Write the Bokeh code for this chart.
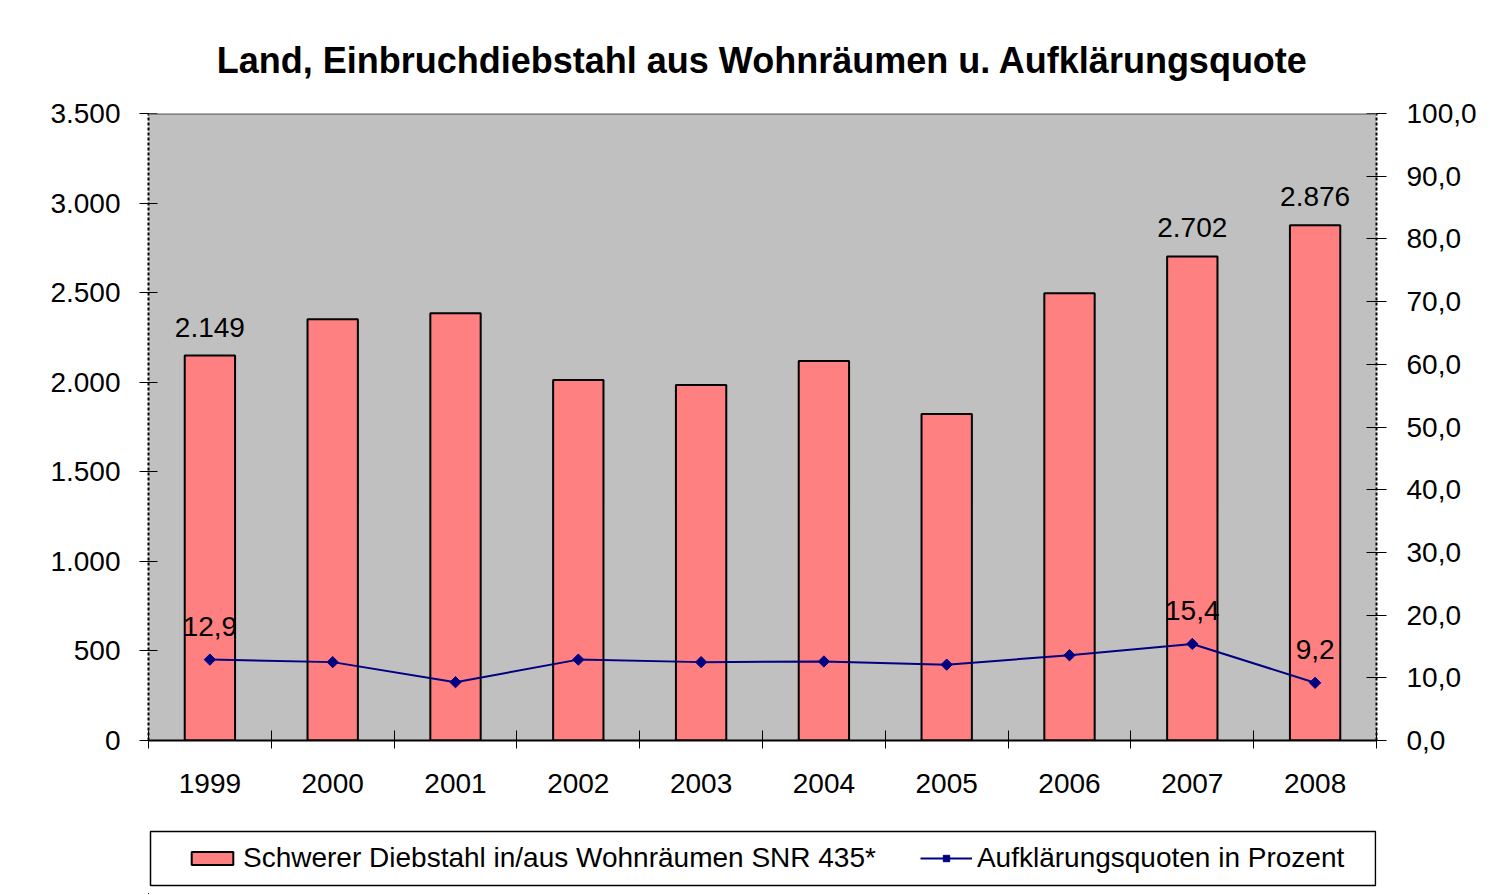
from bokeh.plotting import figure
from bokeh.layouts import column
from bokeh.models import (Range1d, LinearAxis, FixedTicker, Legend, LegendItem,
                          ColumnDataSource, LabelSet, Span)
from bokeh.core.properties import value
from bokeh.embed import file_html
from bokeh.resources import INLINE

# ---- data ----
years = ["1999", "2000", "2001", "2002", "2003", "2004", "2005", "2006", "2007", "2008"]
burglaries = [2149, 2352, 2385, 2012, 1985, 2118, 1822, 2497, 2702, 2876]
clearance = [12.9, 12.5, 9.3, 12.9, 12.5, 12.6, 12.1, 13.6, 15.4, 9.2]
labeled_years = ["1999", "2007", "2008"]
left_ticks = [0, 500, 1000, 1500, 2000, 2500, 3000, 3500]
right_ticks = [0, 10, 20, 30, 40, 50, 60, 70, 80, 90, 100]

title_text = "Land, Einbruchdiebstahl aus Wohnräumen u. Aufklärungsquote"
bar_name = "Schwerer Diebstahl in/aus Wohnräumen SNR 435*"
line_name = "Aufklärungsquoten in Prozent"

FONT = "Liberation Sans"
BAR_FILL = "#FF8080"
LINE_COL = "#000080"
BORDER_L, FRAME_W, BORDER_R = 148, 1228, 112


def de_int(v):
    return f"{v:,}".replace(",", ".")


def de_dec(v):
    return f"{v:.1f}".replace(".", ",")


idx = list(range(len(years)))
src = ColumnDataSource(dict(x=idx, years=years, bars=burglaries, pct=clearance))
lab_idx = [years.index(y) for y in labeled_years]
lab_src = ColumnDataSource(dict(
    x=lab_idx,
    bars=[burglaries[i] for i in lab_idx],
    bar_txt=[de_int(burglaries[i]) for i in lab_idx],
    pct=[clearance[i] for i in lab_idx],
    pct_txt=[de_dec(clearance[i]) for i in lab_idx],
))

p = figure(frame_width=FRAME_W, frame_height=627,
           min_border_left=BORDER_L, min_border_right=BORDER_R,
           min_border_top=113, min_border_bottom=80,
           x_range=Range1d(-0.5, len(years) - 0.5),
           y_range=Range1d(0, 3500),
           output_backend="svg", toolbar_location=None,
           background_fill_color="#C0C0C0", border_fill_color="white",
           outline_line_color=None)
p.extra_y_ranges = {"pct": Range1d(0, 100)}

p.title.text = title_text
p.title.text_font = FONT
p.title.text_font_size = "36px"
p.title.text_font_style = "bold"
p.title.text_color = "black"
p.title.align = "center"
p.title.standoff = 65

p.xgrid.visible = False
p.ygrid.visible = False

# bars
bar_style = dict(fill_color=BAR_FILL, line_color="black", line_width=2)
p.vbar(x="x", top="bars", width=0.41, source=src, **bar_style)

# line
line_style = dict(line_color=LINE_COL, line_width=2)
mark_style = dict(marker="square", angle=0.785398, size=8,
                  fill_color=LINE_COL, line_color=LINE_COL)
p.line(x="x", y="pct", source=src, y_range_name="pct", **line_style)
p.scatter(x="x", y="pct", source=src, y_range_name="pct", **mark_style)

# labels
p.add_layout(LabelSet(x="x", y="bars", text="bar_txt", source=lab_src,
                      text_align="center", text_baseline="alphabetic", y_offset=19,
                      text_font=value(FONT), text_font_size=value("28px"),
                      text_color="black"))
p.add_layout(LabelSet(x="x", y="pct", text="pct_txt", source=lab_src,
                      y_range_name="pct",
                      text_align="center", text_baseline="alphabetic", y_offset=24,
                      text_font=value(FONT), text_font_size=value("28px"),
                      text_color="black"))

# top border of plot area
p.add_layout(Span(location=3500, dimension="width", line_color="#808080", line_width=3))

# x axis
xa = p.xaxis[0]
xa.ticker = FixedTicker(ticks=idx, minor_ticks=[i - 0.5 for i in range(len(years) + 1)])
xa.major_label_overrides = {i: y for i, y in zip(idx, years)}
xa.major_tick_line_color = None
xa.major_tick_in = 0
xa.major_tick_out = 0
xa.minor_tick_in = 10
xa.minor_tick_out = 8
xa.minor_tick_line_color = "black"
xa.minor_tick_line_width = 1
xa.axis_line_color = "black"
xa.axis_line_width = 2
xa.major_label_standoff = 25
xa.major_label_text_font = FONT
xa.major_label_text_font_size = "28px"
xa.major_label_text_color = "black"

# left axis
ya = p.yaxis[0]
ya.ticker = FixedTicker(ticks=left_ticks)
ya.major_label_overrides = {t: de_int(t) for t in left_ticks}
ya.major_tick_in = 9
ya.major_tick_out = 9
ya.major_tick_line_color = "black"
ya.minor_tick_line_color = None
ya.axis_line_color = "black"
ya.axis_line_width = 2
ya.axis_line_dash = "3 2"
ya.major_label_standoff = 19
ya.major_label_text_font = FONT
ya.major_label_text_font_size = "28px"
ya.major_label_text_color = "black"

# right axis
ra = LinearAxis(y_range_name="pct", ticker=FixedTicker(ticks=right_ticks))
ra.major_label_overrides = {t: de_dec(t) for t in right_ticks}
ra.major_tick_in = 10
ra.major_tick_out = 10
ra.major_tick_line_color = "black"
ra.minor_tick_line_color = None
ra.axis_line_color = "black"
ra.axis_line_width = 2
ra.axis_line_dash = "3 2"
ra.major_label_standoff = 20
ra.major_label_text_font = FONT
ra.major_label_text_font_size = "28px"
ra.major_label_text_color = "black"
p.add_layout(ra, "right")

# ---- legend strip (separate figure, same frame geometry, pixel-scaled ranges) ----
LH = 74
lg = figure(frame_width=FRAME_W, frame_height=LH,
            min_border_left=BORDER_L, min_border_right=BORDER_R,
            min_border_top=0, min_border_bottom=0,
            x_range=Range1d(BORDER_L, BORDER_L + FRAME_W), y_range=Range1d(0, LH),
            x_axis_type=None, y_axis_type=None,
            output_backend="svg", toolbar_location=None,
            background_fill_color="white", border_fill_color="white",
            outline_line_color=None)
# off-screen ranges so the proxy swatch renderers draw nothing in the strip
lg.extra_x_ranges = {"proxy": Range1d(1000, 1001)}
lg.extra_y_ranges = {"proxy": Range1d(100000, 100001)}
# legend frame box
lg.quad(left=[150], right=[1375], bottom=[9], top=[63],
        fill_color="white", line_color="black", line_width=1.5)
r_bar = lg.vbar(x="x", top="bars", width=0.41, source=src,
                x_range_name="proxy", y_range_name="proxy", **bar_style)
r_line = lg.line(x="x", y="pct", source=src,
                 x_range_name="proxy", y_range_name="proxy", **line_style)
r_mark = lg.scatter(x="x", y="pct", source=src,
                    x_range_name="proxy", y_range_name="proxy", **mark_style)
legend = Legend(items=[LegendItem(label=bar_name, renderers=[r_bar]),
                       LegendItem(label=line_name, renderers=[r_line, r_mark])],
                orientation="horizontal", location=(38, 20),
                glyph_width=52, glyph_height=16, label_standoff=5, spacing=44,
                padding=0, margin=0,
                label_text_font=FONT, label_text_font_size="28px",
                label_text_color="black",
                border_line_color=None, background_fill_alpha=0.0)
lg.add_layout(legend, "center")

layout = column(p, lg, spacing=0)
open("out.html", "w").write(file_html(layout, INLINE))
